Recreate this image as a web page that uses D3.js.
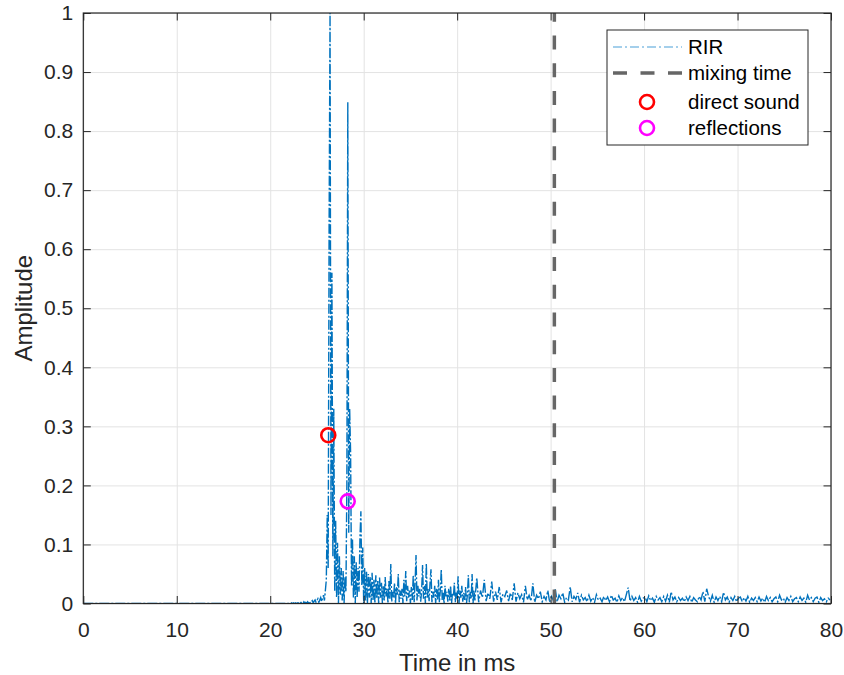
<!DOCTYPE html>
<html>
<head>
<meta charset="utf-8">
<script src="https://cdn.jsdelivr.net/npm/d3@7"></script>
<style>
  body { margin: 0; background: #fff; }
  svg { font-family: "Liberation Sans", Arial, Helvetica, sans-serif; }
</style>
</head>
<body>
<div id="chart"></div>
<script>
// room impulse response, amplitude in 1/1000
var quietTimes = [0, 21.9];
var quietAmp = [0, 0];

// 22.0 .. 32.0 ms, every 0.1 ms
var onsetStart = 22.0, onsetStep = 0.1;
var onsetAmp = [
  0, 1, 0, 1, 0, 1, 0, 1, 0, 1, 0,
  2, 0, 2, 1, 0, 3, 1, 2, 0, 3,
  1, 4, 0, 3, 5, 1, 4, 6, 2, 5,
  8, 2, 6, 10, 3, 9, 14, 5, 22,
  40, 150, 60, 640, 1000, 150, 560, 80, 330, 20,
  140, 10, 103, 0, 80, 15, 60, 5, 55, 0,
  45, 20, 200, 849, 120, 330, 255, 30, 110, 10,
  80, 0, 70, 10, 60, 20, 110, 156, 30, 95,
  0, 60, 5, 55, 0, 50, 10, 45, 0, 52,
  5, 40, 0, 48, 8, 38, 0, 44, 10, 35, 0
];

// 32.1 .. 41.9 ms, every 0.1 ms
var earlyStart = 32.1, earlyStep = 0.1;
var earlyAmp = [
  30, 5, 45, 12, 25, 0, 38, 8, 67, 3,
  20, 10, 35, 0, 28, 15, 50, 2, 22, 8,
  25, 0, 40, 12, 55, 4, 30, 10, 22, 0,
  28, 6, 48, 2, 35, 82, 5, 30, 12, 25,
  3, 22, 65, 8, 30, 0, 68, 10, 25, 4,
  35, 58, 2, 20, 10, 30, 0, 25, 6, 40,
  2, 22, 58, 6, 18, 0, 30, 12, 20, 3,
  25, 5, 30, 0, 18, 12, 35, 2, 20, 8,
  46, 0, 22, 10, 30, 3, 18, 6, 28, 0,
  15, 48, 2, 20, 8, 50, 0, 22, 5
];

// 42.1 .. 79.9 ms, every 0.2 ms
var tailStart = 42.1, tailStep = 0.2;
var tailAmp = [
  44, 2, 22, 10, 40, 4, 18, 8, 37, 3,
  20, 6, 28, 2, 16, 12, 22, 4, 18, 6,
  34, 3, 18, 8, 15, 2, 30, 6, 14, 4,
  34, 2, 14, 8, 20, 3, 12, 6, 22, 2,
  12, 5, 24, 3, 14, 8, 18, 2, 10, 6,
  28, 3, 12, 7, 18, 2, 14, 6, 10, 3,
  14, 4, 10, 2, 15, 6, 9, 3, 12, 5,
  11, 3, 14, 6, 9, 2, 13, 5, 10, 3,
  15, 27, 4, 12, 5, 10, 2, 12, 4, 9,
  11, 3, 13, 5, 9, 2, 12, 6, 10, 3,
  12, 4, 14, 2, 20, 6, 11, 3, 10, 5,
  9, 3, 11, 5, 12, 2, 10, 6, 3, 12,
  6, 20, 3, 25, 12, 4, 14, 2, 11, 5,
  12, 3, 19, 6, 11, 2, 10, 5, 12, 3,
  9, 11, 3, 10, 4, 12, 2, 9, 5, 10,
  3, 11, 4, 9, 2, 12, 5, 10, 3, 8,
  11, 3, 14, 6, 9, 2, 10, 5, 12, 3,
  8, 10, 3, 11, 5, 9, 2, 14, 6, 10,
  3, 9, 11, 2, 10, 5, 8, 3, 9, 6
];

var mixingTime = 50.4;
var directSound = [{ t: 26.21, a: 0.285 }];
var reflections = [{ t: 28.29, a: 0.173 }];

var xTicks = [0, 10, 20, 30, 40, 50, 60, 70, 80];
var yTicks = [0, 0.1, 0.2, 0.3, 0.4, 0.5, 0.6, 0.7, 0.8, 0.9, 1];
var legendLabels = ["RIR", "mixing time", "direct sound", "reflections"];

(function() {
  var width = 844,
      height = 675,
      margin = { top: 13, right: 13, bottom: 71.5, left: 83.3 };

  var innerW = width - margin.left - margin.right,
      innerH = height - margin.top - margin.bottom;

  var svg = d3.select("#chart")
    .append("svg")
    .attr("width", width)
    .attr("height", height);

  var g = svg.append("g")
    .attr("transform", "translate(" + margin.left + "," + margin.top + ")");

  var x = d3.scaleLinear().domain([0, 80]).range([0, innerW]);
  var y = d3.scaleLinear().domain([0, 1]).range([innerH, 0]);

  // put the pieces of the signal together
  var rir = [];
  quietTimes.forEach(function(t, i) { rir.push({ t: t, a: quietAmp[i] }); });
  onsetAmp.forEach(function(v, i) { rir.push({ t: onsetStart + i * onsetStep, a: v / 1000 }); });
  earlyAmp.forEach(function(v, i) { rir.push({ t: earlyStart + i * earlyStep, a: v / 1000 }); });
  tailAmp.forEach(function(v, i) { rir.push({ t: tailStart + i * tailStep, a: v / 1000 }); });

  g.append("clipPath").attr("id", "clip")
    .append("rect").attr("width", innerW).attr("height", innerH);

  // grid
  g.append("g")
    .call(d3.axisBottom(x).tickValues(xTicks).tickSize(innerH).tickFormat(""))
    .call(function(a) {
      a.select(".domain").remove();
      a.selectAll("line").attr("stroke", "#e3e3e3");
    });
  g.append("g")
    .call(d3.axisLeft(y).tickValues(yTicks).tickSize(-innerW).tickFormat(""))
    .call(function(a) {
      a.select(".domain").remove();
      a.selectAll("line").attr("stroke", "#e3e3e3");
    });

  var line = d3.line()
    .x(function(d) { return x(d.t); })
    .y(function(d) { return y(d.a); });

  g.append("path")
    .datum(rir)
    .attr("clip-path", "url(#clip)")
    .attr("fill", "none")
    .attr("stroke", "#0072bd")
    .attr("stroke-width", 1.4)
    .attr("stroke-dasharray", "10,2,2,2")
    .attr("d", line);

  // mixing time
  g.append("line")
    .attr("x1", x(mixingTime)).attr("x2", x(mixingTime))
    .attr("y1", y(0)).attr("y2", y(1))
    .attr("stroke", "#666666")
    .attr("stroke-width", 3.5)
    .attr("stroke-dasharray", "14,13.7");

  g.selectAll(".direct")
    .data(directSound)
    .enter().append("circle")
    .attr("class", "direct")
    .attr("cx", function(d) { return x(d.t); })
    .attr("cy", function(d) { return y(d.a); })
    .attr("r", 7)
    .attr("fill", "none")
    .attr("stroke", "#ff0000")
    .attr("stroke-width", 2.6);

  g.selectAll(".refl")
    .data(reflections)
    .enter().append("circle")
    .attr("class", "refl")
    .attr("cx", function(d) { return x(d.t); })
    .attr("cy", function(d) { return y(d.a); })
    .attr("r", 7)
    .attr("fill", "none")
    .attr("stroke", "#ff00ff")
    .attr("stroke-width", 2.6);

  // axes, box on, ticks pointing inwards
  var axisColor = "#262626";
  function styleAxis(a) {
    a.select(".domain").remove();
    a.selectAll("line").attr("stroke", axisColor);
    a.selectAll("text").attr("fill", axisColor).attr("font-size", 21);
  }
  g.append("g")
    .attr("transform", "translate(0," + innerH + ")")
    .call(d3.axisBottom(x).tickValues(xTicks).tickSize(-7.5).tickFormat(d3.format("d")))
    .call(styleAxis)
    .call(function(a) { a.selectAll("text").attr("dy", "0.71em").attr("y", 19); });
  g.append("g")
    .call(d3.axisLeft(y).tickValues(yTicks).tickSize(-7.5).tickPadding(10).tickFormat(function(d) { return d3.format("~g")(d); }))
    .call(styleAxis);
  g.append("g")
    .call(d3.axisTop(x).tickValues(xTicks).tickSize(-7.5).tickFormat(""))
    .call(styleAxis);
  g.append("g")
    .attr("transform", "translate(" + innerW + ",0)")
    .call(d3.axisRight(y).tickValues(yTicks).tickSize(-7.5).tickFormat(""))
    .call(styleAxis);

  g.append("rect")
    .attr("width", innerW).attr("height", innerH)
    .attr("fill", "none")
    .attr("stroke", axisColor)
    .attr("stroke-width", 1.2);

  // axis labels
  svg.append("text")
    .attr("x", margin.left + innerW / 2)
    .attr("y", 671)
    .attr("text-anchor", "middle")
    .attr("font-size", 24)
    .attr("fill", axisColor)
    .text("Time in ms");

  svg.append("text")
    .attr("transform", "translate(32," + (margin.top + innerH / 2) + ") rotate(-90)")
    .attr("text-anchor", "middle")
    .attr("font-size", 24)
    .attr("fill", axisColor)
    .text("Amplitude");

  // legend
  var lg = svg.append("g").attr("transform", "translate(607,30)");
  lg.append("rect")
    .attr("width", 201).attr("height", 115)
    .attr("fill", "#fff")
    .attr("stroke", axisColor)
    .attr("stroke-width", 1);

  var rowY = [17, 43, 72, 98];
  lg.append("line")
    .attr("x1", 6).attr("x2", 75).attr("y1", rowY[0]).attr("y2", rowY[0])
    .attr("stroke", "#4a9fd8").attr("stroke-width", 1.2)
    .attr("stroke-dasharray", "9,3,2,3");
  lg.append("line")
    .attr("x1", 6).attr("x2", 75).attr("y1", rowY[1]).attr("y2", rowY[1])
    .attr("stroke", "#666666").attr("stroke-width", 3.5)
    .attr("stroke-dasharray", "14,13.5");
  lg.append("circle")
    .attr("cx", 40).attr("cy", rowY[2]).attr("r", 7)
    .attr("fill", "none").attr("stroke", "#ff0000").attr("stroke-width", 2.6);
  lg.append("circle")
    .attr("cx", 40).attr("cy", rowY[3]).attr("r", 7)
    .attr("fill", "none").attr("stroke", "#ff00ff").attr("stroke-width", 2.6);

  lg.selectAll(".lbl")
    .data(legendLabels)
    .enter().append("text")
    .attr("class", "lbl")
    .attr("x", 81)
    .attr("y", function(d, i) { return rowY[i]; })
    .attr("dy", "0.36em")
    .attr("font-size", 20.5)
    .attr("fill", "#000")
    .text(function(d) { return d; });
})();
</script>
</body>
</html>
